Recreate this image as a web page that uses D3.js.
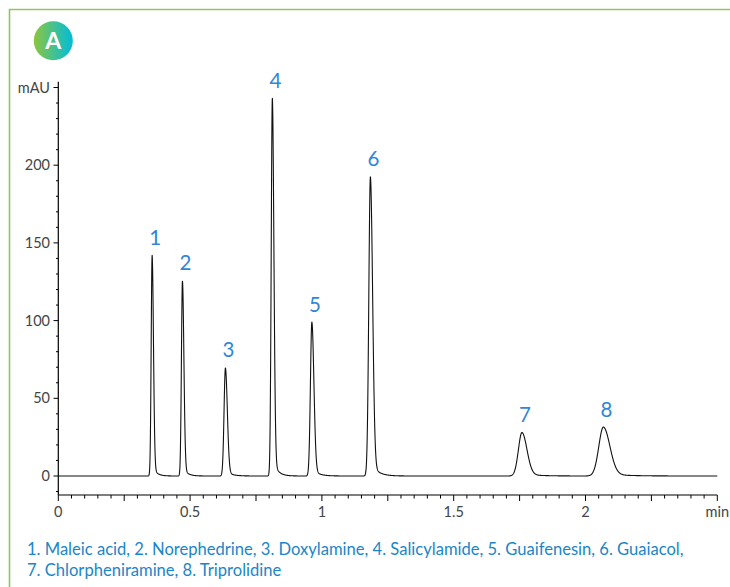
<!DOCTYPE html>
<html>
<head>
<meta charset="utf-8">
<script src="https://cdn.jsdelivr.net/npm/d3@7"></script>
<style>
  html, body { margin: 0; padding: 0; background: #fff; }
  svg { display: block; }
</style>
</head>
<body>
<svg id="chart" width="730" height="587"></svg>
<script>
// ---- data ----
const peakLabels   = ["1", "2", "3", "4", "5", "6", "7", "8"];
const peakTimes    = [0.356, 0.471, 0.634, 0.812, 0.962, 1.184, 1.759, 2.068]; // min
const peakHeights  = [142, 125.5, 69.5, 243, 99, 192.5, 28, 31.5];           // mAU
const peakSigmas   = [0.0036, 0.0039, 0.0052, 0.0042, 0.0055, 0.0060, 0.0135, 0.0175]; // min
const compounds    = ["Maleic acid", "Norephedrine", "Doxylamine", "Salicylamide",
                      "Guaifenesin", "Guaiacol", "Chlorpheniramine", "Triprolidine"];
const xTickLabels  = ["0", "0.5", "1", "1.5", "2"];
const yTickValues  = [0, 50, 100, 150, 200];
const xUnit = "min", yUnit = "mAU";
const badgeLetter = "A";

// ---- build the trace from the peak table (tailed Gaussian peaks) ----
function signal(t) {
  let y = 0;
  for (let i = 0; i < peakTimes.length; i++) {
    const d = t - peakTimes[i], s = peakSigmas[i], h = peakHeights[i];
    if (d <= 0) {
      y += h * Math.exp(-0.5 * (d / s) ** 2);
    } else {
      const a = 0.05, tau = 4 * s;
      y += h * ((1 - a) * Math.exp(-0.5 * (d / (1.4 * s)) ** 2) + a * Math.exp(-d / tau));
    }
  }
  return y;
}
const trace = d3.range(0, 2.5001, 0.0004).map(t => [t, signal(t)]);

// ---- scales ----
const svg = d3.select("#chart");
const x = d3.scaleLinear().domain([0, 2.5]).range([58.3, 717.3]);
const y = d3.scaleLinear().domain([0, 250]).range([476, 87.5]);
const yTop = y.invert(81.7), yBot = y.invert(495);

// frame (top + left green rule)
svg.append("path")
  .attr("d", "M9.5,587 L9.5,9.5 L730,9.5")
  .attr("fill", "none").attr("stroke", "#8cc862").attr("stroke-width", 1.6);

// badge
const grad = svg.append("defs").append("linearGradient")
  .attr("id", "badgeGrad").attr("x1", "0%").attr("x2", "100%").attr("y1", "0%").attr("y2", "0%");
grad.append("stop").attr("offset", "0%").attr("stop-color", "#8dc63f");
grad.append("stop").attr("offset", "100%").attr("stop-color", "#00bcdc");
svg.append("circle").attr("cx", 53.3).attr("cy", 40.8).attr("r", 19.5).attr("fill", "url(#badgeGrad)");
svg.append("text").attr("x", 53.3).attr("y", 48.8).attr("text-anchor", "middle")
  .attr("font-family", "Lato, 'Open Sans', sans-serif").attr("font-weight", 700)
  .attr("font-size", 23).attr("fill", "#fff").text(badgeLetter);

const axisColor = "#000";
const labelFont = "Lato, 'Noto Sans', sans-serif";

// ---- y axis ----
const yAxisG = svg.append("g");
yAxisG.append("line").attr("x1", 58.3).attr("x2", 58.3).attr("y1", y(yTop)).attr("y2", y(yBot))
  .attr("stroke", axisColor).attr("stroke-width", 1.2);
const yMinor = d3.range(-10, 251, 10);
yAxisG.selectAll(".ymin").data(yMinor).join("line")
  .attr("x1", 58.3).attr("x2", d => d % 50 === 0 ? 53.5 : 56)
  .attr("y1", d => y(d)).attr("y2", d => y(d))
  .attr("stroke", axisColor).attr("stroke-width", 1);
yAxisG.selectAll(".ylab").data(yTickValues).join("text")
  .attr("x", 50).attr("y", d => y(d)).attr("dy", "0.35em")
  .attr("text-anchor", "end").attr("font-family", labelFont).attr("font-size", 14.5)
  .attr("fill", "#444").text(d => d);
yAxisG.append("text").attr("x", 50).attr("y", y(250)).attr("dy", "0.35em")
  .attr("text-anchor", "end").attr("font-family", labelFont).attr("font-size", 14.5)
  .attr("fill", "#444").text(yUnit);

// ---- x axis ----
const xAxisG = svg.append("g");
xAxisG.append("line").attr("x1", 58.3).attr("x2", 717.3).attr("y1", 495).attr("y2", 495)
  .attr("stroke", axisColor).attr("stroke-width", 1.2);
const xMinor = d3.range(0, 51).map(i => i * 0.05);
xAxisG.selectAll(".xmin").data(xMinor).join("line")
  .attr("x1", d => x(d)).attr("x2", d => x(d))
  .attr("y1", 495).attr("y2", (d, i) => i % 5 === 0 ? 501 : 498.5)
  .attr("stroke", axisColor).attr("stroke-width", 1);
xAxisG.selectAll(".xlab").data(xTickLabels).join("text")
  .attr("x", d => x(+d)).attr("y", 516.5)
  .attr("text-anchor", "middle").attr("font-family", labelFont).attr("font-size", 14.5)
  .attr("fill", "#444").text(d => d);
xAxisG.append("text").attr("x", x(2.5)).attr("y", 516.5)
  .attr("text-anchor", "middle").attr("font-family", labelFont).attr("font-size", 14.5)
  .attr("fill", "#444").text(xUnit);

// ---- trace ----
const line = d3.line().x(d => x(d[0])).y(d => y(d[1]));
svg.append("path").datum(trace).attr("d", line)
  .attr("fill", "none").attr("stroke", "#111").attr("stroke-width", 1.1)
  .attr("stroke-linejoin", "round");

// ---- peak labels ----
svg.selectAll(".plab").data(peakLabels).join("text")
  .attr("x", (d, i) => x(peakTimes[i]) + 3)
  .attr("y", (d, i) => y(peakHeights[i]) - 10.5)
  .attr("text-anchor", "middle").attr("font-family", labelFont).attr("font-size", 20.5)
  .attr("fill", "#2f86d6").text(d => d);

// ---- legend ----
const legendLines = [
  compounds.slice(0, 6).map((c, i) => `${i + 1}. ${c}`).join(", ") + ",",
  compounds.slice(6).map((c, i) => `${i + 7}. ${c}`).join(", ")
];
const leg = svg.selectAll(".leg").data(legendLines).join("text")
  .attr("x", 27).attr("y", (d, i) => 555 + i * 21)
  .attr("font-family", labelFont).attr("font-size", 14.5)
  .attr("fill", "#1a86c8").text(d => d);
// fit first line width to the reference (~657 px)
const w0 = leg.node().getComputedTextLength();
const fs = 14.5 * 657 / w0;
leg.attr("font-size", fs);
</script>
</body>
</html>
